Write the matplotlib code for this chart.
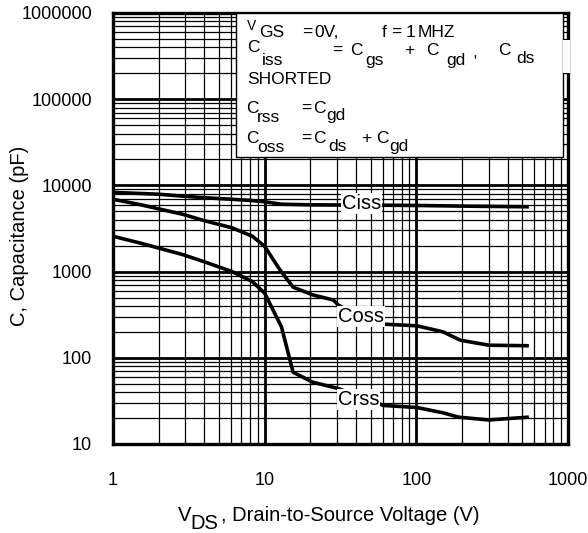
import numpy as np
import matplotlib
matplotlib.use('Agg')
import matplotlib.pyplot as plt
from matplotlib.patches import Rectangle
from matplotlib.ticker import LogLocator, NullFormatter, FixedLocator

plt.rcParams['font.family'] = ['Liberation Sans', 'DejaVu Sans']

# capacitance vs drain-source voltage (pF)
vds_ciss = [1, 2, 2.9, 4, 6.1, 8, 9.7, 12.9, 20, 50, 100, 200, 552]
ciss = [8300, 7900, 7500, 7200, 6900, 6700, 6500, 6050, 5950, 5900, 5850, 5750, 5650]

vds_coss = [1, 1.5, 2.9, 4, 6.1, 8.3, 10, 12.6, 15.4, 20.8, 28.4, 30.5,
            49.7, 101, 150, 195, 300, 552]
coss = [6900, 6000, 4610, 3900, 3220, 2570, 1960, 1050, 660, 536, 468, 410,
        250, 235, 200, 160, 140, 138]

vds_crss = [1, 1.5, 2.9, 4, 6.1, 8.3, 10, 12.9, 15.4, 20.8, 28.4, 30.5,
            60.6, 101, 150, 190, 300, 552]
crss = [2570, 2150, 1570, 1300, 1000, 765, 561, 229, 68, 52, 45.5, 44,
        28, 26.5, 23, 20.5, 19, 20.5]

x_ticks = [1, 10, 100, 1000]
y_ticks = [10, 100, 1000, 10000, 100000, 1000000]

W, H = 588, 533
fig = plt.figure(figsize=(W / 100, H / 100), dpi=100)
ax = fig.add_axes([113 / W, 1 - 444 / H, 455 / W, 431 / H])
ax.set_xscale('log')
ax.set_yscale('log')
ax.set_xlim(1, 1000)
ax.set_ylim(10, 1000000)

ax.xaxis.set_major_locator(FixedLocator(x_ticks))
ax.yaxis.set_major_locator(FixedLocator(y_ticks))
ax.xaxis.set_minor_locator(LogLocator(base=10, subs=np.arange(2, 10)))
ax.yaxis.set_minor_locator(LogLocator(base=10, subs=np.arange(2, 10)))
ax.xaxis.set_minor_formatter(NullFormatter())
ax.yaxis.set_minor_formatter(NullFormatter())
ax.set_xticklabels([str(t) for t in x_ticks])
ax.set_yticklabels([str(t) for t in y_ticks])
ax.tick_params(which='both', length=0, labelsize=13)
ax.tick_params(axis='x', pad=20)
ax.tick_params(axis='y', pad=15)

ax.set_axisbelow(True)
ax.grid(which='major', color='black', lw=2.0)
ax.grid(which='minor', color='black', lw=0.9)
for s in ax.spines.values():
    s.set_linewidth(2.4)

for v, c in [(vds_ciss, ciss), (vds_coss, coss), (vds_crss, crss)]:
    ax.plot(v, c, color='black', lw=2.6, zorder=3, solid_capstyle='butt')

lbl = dict(fontsize=14.5, ha='left', va='baseline', zorder=5,
           bbox=dict(facecolor='white', edgecolor='none', pad=0.6))
ax.text(32.3, 5300, 'Ciss', **lbl)
ax.text(30.4, 260, 'Coss', **lbl)
ax.text(30.4, 28.3, 'Crss', **lbl)

# condition box in upper right
ax.add_patch(Rectangle((0.270, 0.666), 0.719, 0.334, transform=ax.transAxes,
                       facecolor='white', edgecolor='black', lw=1.0, zorder=4))
ax.add_patch(Rectangle((0.989, 0.861), 0.016, 0.076, transform=ax.transAxes,
                       facecolor='white', edgecolor='none', zorder=6, clip_on=False))


def put(x, y, s, size=12.5):
    # x, y in pixels from the top-left corner, y is the baseline
    fig.text(x / W, 1 - y / H, s, fontsize=size, ha='left', va='baseline')


box_text = [
    (247, 30, 'V', 10), (259, 37, 'GS', 12.5), (302, 37, '=', 12.5),
    (314, 37, '0V,', 12.5), (382, 37, 'f', 12.5), (391, 37, '=', 12.5),
    (406, 37, '1', 12.5), (418, 37, 'MHZ', 12.5),
    (247, 52, 'C', 12.5), (262, 65, 'iss', 12.5), (332, 55, '=', 12.5),
    (350, 55, 'C', 12.5), (365, 65, 'gs', 12.5), (404, 55, '+', 12.5),
    (426, 55, 'C', 12.5), (446, 65, 'gd', 12.5), (472, 57, ',', 12.5),
    (498, 55, 'C', 12.5), (516, 63, 'ds', 12.5),
    (247, 84, 'SHORTED', 12.5),
    (246, 113, 'C', 12.5), (257, 122, 'rss', 12.5), (301, 113, '=', 12.5),
    (313, 113, 'C', 12.5), (326, 120, 'gd', 12.5),
    (246, 143, 'C', 12.5), (257, 152, 'oss', 12.5), (301, 143, '=', 12.5),
    (313, 143, 'C', 12.5), (328, 151, 'ds', 12.5), (361, 143, '+', 12.5),
    (376, 143, 'C', 12.5), (389, 151, 'gd', 12.5),
]
for x, y, s, size in box_text:
    put(x, y, s, size)

# axis titles
put(178, 521, 'V', 14.5)
put(190, 529, 'DS', 14.5)
put(221, 521, ', Drain-to-Source Voltage (V)', 14.5)
fig.text(19.5 / W, 1 - 236 / H, 'C, Capacitance (pF)', fontsize=14.5,
         rotation=90, ha='center', va='center')

fig.savefig('out.png', dpi=100)
